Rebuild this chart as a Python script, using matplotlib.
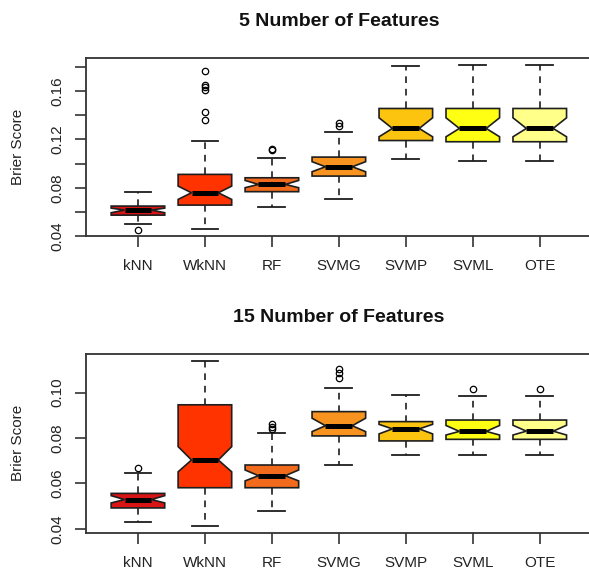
import matplotlib
matplotlib.use('Agg')
import matplotlib.pyplot as plt

# --- data ---
methods = ['kNN', 'WkNN', 'RF', 'SVMG', 'SVMP', 'SVML', 'OTE']
box_colors = ['#D81414', '#FF3300', '#F26A1B', '#F7931E', '#FCC30F', '#FFFF14', '#FFFF8A']

# 5 features
f5_lo = [0.0497, 0.0455, 0.0640, 0.0709, 0.1034, 0.1020, 0.1020]
f5_q1 = [0.0573, 0.0656, 0.0767, 0.0896, 0.1190, 0.1180, 0.1180]
f5_med = [0.0615, 0.0758, 0.0827, 0.0973, 0.1290, 0.1290, 0.1290]
f5_q3 = [0.0648, 0.0910, 0.0882, 0.1053, 0.1455, 0.1455, 0.1455]
f5_hi = [0.0767, 0.1182, 0.1042, 0.1262, 0.1810, 0.1818, 0.1818]
f5_cilo = [0.0593, 0.0703, 0.0800, 0.0932, 0.1221, 0.1221, 0.1221]
f5_cihi = [0.0631, 0.0813, 0.0860, 0.1015, 0.1378, 0.1378, 0.1378]
f5_out = [[0.0453],
          [0.1763, 0.1653, 0.1631, 0.1612, 0.1424, 0.1356],
          [0.1124, 0.1108],
          [0.1331, 0.1312],
          [], [], []]

# 15 features
f15_lo = [0.0428, 0.0413, 0.0478, 0.0681, 0.0725, 0.0725, 0.0725]
f15_q1 = [0.0492, 0.0581, 0.0581, 0.0809, 0.0787, 0.0794, 0.0794]
f15_med = [0.0529, 0.0703, 0.0634, 0.0854, 0.0840, 0.0829, 0.0830]
f15_q3 = [0.0556, 0.0946, 0.0681, 0.0916, 0.0872, 0.0879, 0.0879]
f15_hi = [0.0644, 0.1141, 0.0823, 0.1022, 0.0990, 0.0983, 0.0984]
f15_cilo = [0.0514, 0.0651, 0.0611, 0.0828, 0.0818, 0.0813, 0.0813]
f15_cihi = [0.0546, 0.0762, 0.0659, 0.0887, 0.0860, 0.0855, 0.0856]
f15_out = [[0.0666], [], [0.0860, 0.0850, 0.0840], [0.1103, 0.1086, 0.1066], [], [0.1016], [0.1015]]

panels = [
    ('5 Number of Features', f5_lo, f5_q1, f5_med, f5_q3, f5_hi, f5_cilo, f5_cihi, f5_out,
     (0.0398, 0.1875), [0.04, 0.06, 0.08, 0.10, 0.12, 0.14, 0.16, 0.18],
     ['0.04', '', '0.08', '', '0.12', '', '0.16', '']),
    ('15 Number of Features', f15_lo, f15_q1, f15_med, f15_q3, f15_hi, f15_cilo, f15_cihi, f15_out,
     (0.0383, 0.1171), [0.04, 0.06, 0.08, 0.10],
     ['0.04', '0.06', '0.08', '0.10']),
]

plt.rcParams['font.family'] = ['Liberation Sans', 'DejaVu Sans']

W, H = 589, 572
fig = plt.figure(figsize=(W / 100, H / 100), dpi=100)

# axes boxes in pixels: left, top, right, bottom
ax_px = [(85.7, 57.7, 592, 236.3), (85.7, 353.7, 592, 532.7)]
title_y = [22, 317]

TXT = '#222222'
EDGE = '#1E1E1E'

for (title, lo, q1, med, q3, hi, cilo, cihi, out, ylim, yt, ytl), (l, t, r, b), ty in zip(panels, ax_px, title_y):
    ax = fig.add_axes([l / W, 1 - b / H, (r - l) / W, (b - t) / H])
    stats = []
    for i in range(len(methods)):
        stats.append(dict(whislo=lo[i], q1=q1[i], med=med[i], q3=q3[i], whishi=hi[i],
                          cilo=cilo[i], cihi=cihi[i], fliers=out[i], label=methods[i]))
    bp = ax.bxp(stats, positions=range(1, 8), widths=0.8, shownotches=True,
                patch_artist=True,
                boxprops=dict(edgecolor=EDGE, linewidth=1.2),
                medianprops=dict(color='black', linewidth=3.6, solid_capstyle='butt'),
                whiskerprops=dict(color=EDGE, linewidth=1.2, linestyle=(0, (4, 3.5))),
                capprops=dict(color=EDGE, linewidth=1.3),
                flierprops=dict(marker='o', markerfacecolor='none', markeredgecolor='black',
                                markersize=4.6, markeredgewidth=0.9))
    for patch, c in zip(bp['boxes'], box_colors):
        patch.set_facecolor(c)

    ax.set_xlim(0.22, 7.78)
    ax.set_ylim(*ylim)
    ax.set_yticks(yt)
    ax.set_yticklabels(ytl)
    ax.set_xticks(range(1, 8))
    ax.set_xticklabels(methods)

    ax.tick_params(axis='both', direction='out', length=7.7, width=1.2, color='#333333',
                   labelsize=11, labelcolor=TXT)
    ax.tick_params(axis='x', pad=9)
    ax.tick_params(axis='y', pad=7.5)
    for lab in ax.get_yticklabels():
        lab.set_rotation(90)
        lab.set_va('center')

    for s in ax.spines.values():
        s.set_color('#333333')
        s.set_linewidth(1.3)

    cx = ((l + r) / 2) / W
    fig.text(cx, 1 - ty / H, title, ha='center', va='center', fontsize=14,
             fontweight='bold', color='#111111')
    fig.text(18 / W, 1 - ((t + b) / 2) / H, 'Brier Score', rotation=90,
             ha='center', va='center', fontsize=11, color=TXT)

fig.savefig('out.png', dpi=100)
